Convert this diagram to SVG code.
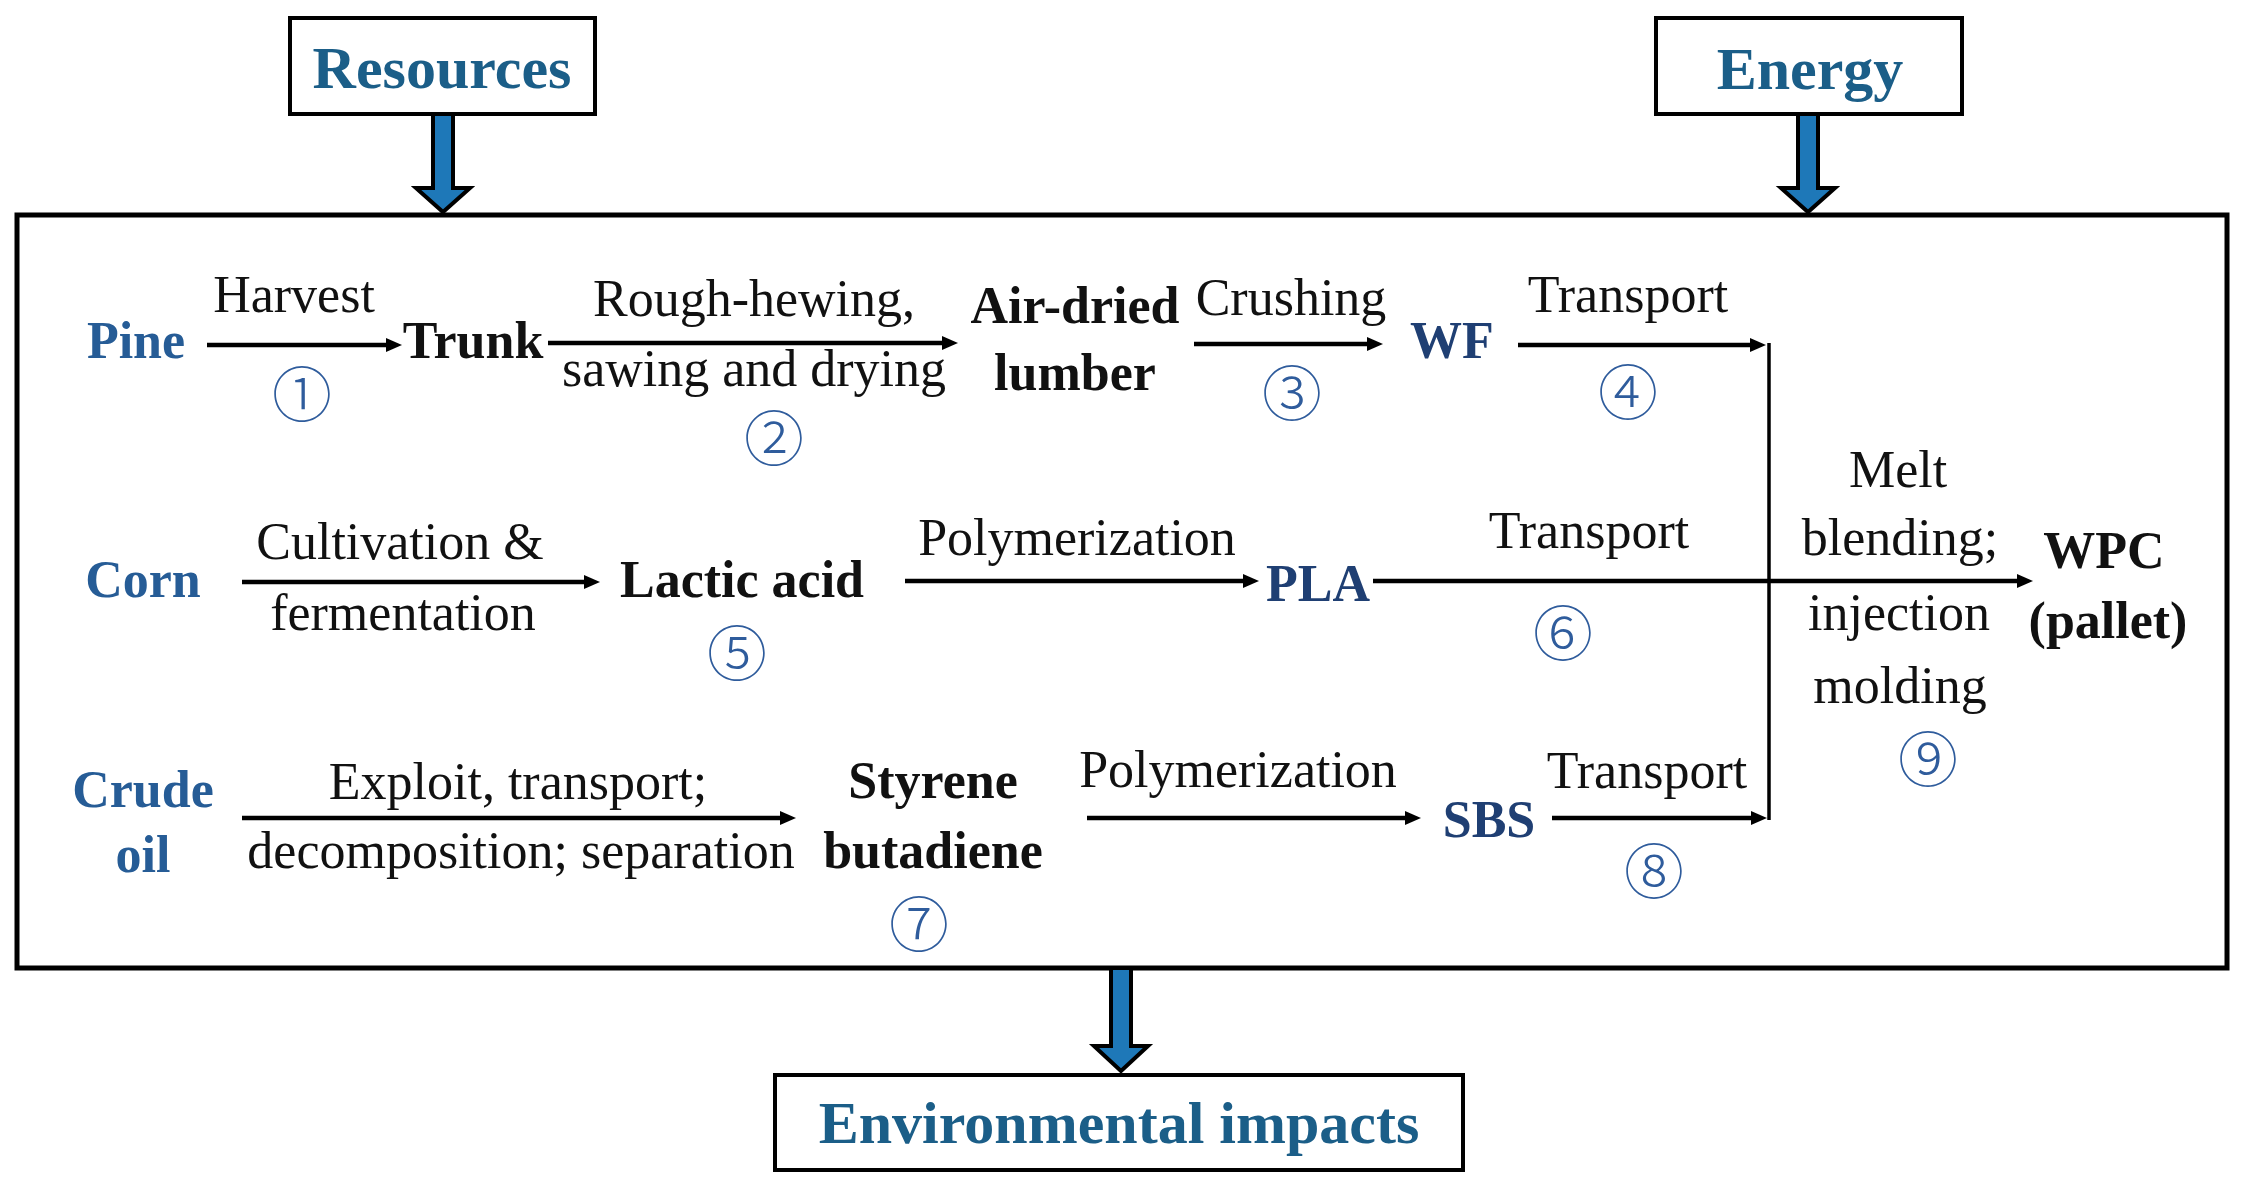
<svg xmlns="http://www.w3.org/2000/svg" width="2243" height="1189" viewBox="0 0 2243 1189">
<style>
.box{fill:#fff;stroke:#000;stroke-width:4}
.hdr{font-family:"Liberation Serif",serif;font-weight:bold;font-size:60px;fill:#1B5E88;text-anchor:middle}
.lbl{font-family:"Liberation Serif",serif;font-size:52px;fill:#111;text-anchor:middle}
.nd{font-family:"Liberation Serif",serif;font-weight:bold;font-size:52px;fill:#111;text-anchor:middle}
.ndb{font-family:"Liberation Serif",serif;font-weight:bold;font-size:52px;fill:#265C96;text-anchor:middle}
.ndd{font-family:"Liberation Serif",serif;font-weight:bold;font-size:52px;fill:#1F3F73;text-anchor:middle}
.num{font-family:"Noto Sans CJK JP","Noto Sans CJK SC",sans-serif;font-size:60px;font-weight:300;fill:#2F5C9C;text-anchor:middle;dominant-baseline:central}
.ln{stroke:#000;stroke-width:4.5;fill:none}
.big{fill:#1E78B8;stroke:#000;stroke-width:4;stroke-linejoin:miter}
</style>
<defs>
<marker id="ah" viewBox="0 0 16 14" markerWidth="16" markerHeight="14" refX="1" refY="7" markerUnits="userSpaceOnUse" orient="auto">
<path d="M0,0 L16,7 L0,14 z" fill="#000"/>
</marker>
</defs>

<g id="system-boundary">
<rect x="17" y="215" width="2210" height="753" fill="none" stroke="#000" stroke-width="5"/>
</g>

<g id="resources">
<rect class="box" x="290" y="18" width="305" height="96"/>
<text class="hdr" x="442" y="88">Resources</text>
</g>
<g id="energy">
<rect class="box" x="1656" y="18" width="306" height="96"/>
<text class="hdr" x="1810" y="89">Energy</text>
</g>
<g id="environmental-impacts">
<rect class="box" x="775" y="1075" width="688" height="95"/>
<text class="hdr" x="1119" y="1143">Environmental impacts</text>
</g>

<g id="pine"><text class="ndb" x="136" y="358">Pine</text></g>
<g id="trunk"><text class="nd" x="473" y="358">Trunk</text></g>
<g id="air-dried-lumber"><text class="nd" x="1075" y="323">Air-dried</text><text class="nd" x="1075" y="390">lumber</text></g>
<g id="wf"><text class="ndd" x="1452" y="358">WF</text></g>
<g id="corn"><text class="ndb" x="143" y="597">Corn</text></g>
<g id="lactic-acid"><text class="nd" x="742" y="597">Lactic acid</text></g>
<g id="pla"><text class="ndd" x="1318" y="601">PLA</text></g>
<g id="crude-oil"><text class="ndb" x="143" y="807">Crude</text><text class="ndb" x="143" y="872">oil</text></g>
<g id="styrene-butadiene"><text class="nd" x="933" y="798">Styrene</text><text class="nd" x="933" y="868">butadiene</text></g>
<g id="sbs"><text class="ndd" x="1489" y="837">SBS</text></g>
<g id="wpc"><text class="nd" x="2104" y="568">WPC</text><text class="nd" x="2108" y="638">(pallet)</text></g>

<g id="connectors">
<polygon class="big" points="433,114 453,114 453,188 470,188 443,212 416,188 433,188"/>
<polygon class="big" points="1798,114 1818,114 1818,188 1835,188 1808,212 1781,188 1798,188"/>
<polygon class="big" points="1111,968 1131,968 1131,1046 1148,1046 1121,1071 1094,1046 1111,1046"/>

<line class="ln" x1="207" y1="345" x2="387" y2="345" marker-end="url(#ah)"/>
<line class="ln" x1="548" y1="343" x2="943" y2="343" marker-end="url(#ah)"/>
<line class="ln" x1="1194" y1="344" x2="1368" y2="344" marker-end="url(#ah)"/>
<line class="ln" x1="1518" y1="345" x2="1751" y2="345" marker-end="url(#ah)"/>
<line class="ln" x1="242" y1="582" x2="585" y2="582" marker-end="url(#ah)"/>
<line class="ln" x1="905" y1="581" x2="1244" y2="581" marker-end="url(#ah)"/>
<line class="ln" x1="1373" y1="581" x2="2018" y2="581" marker-end="url(#ah)"/>
<line class="ln" x1="242" y1="818" x2="781" y2="818" marker-end="url(#ah)"/>
<line class="ln" x1="1087" y1="818" x2="1406" y2="818" marker-end="url(#ah)"/>
<line class="ln" x1="1552" y1="818" x2="1752" y2="818" marker-end="url(#ah)"/>
<line x1="1769" y1="343" x2="1769" y2="820" stroke="#000" stroke-width="3.5"/>

<text class="lbl" x="294" y="312">Harvest</text>
<text class="num" x="302" y="390">①</text>
<text class="lbl" x="754" y="316">Rough-hewing,</text>
<text class="lbl" x="754" y="386">sawing and drying</text>
<text class="num" x="774" y="434">②</text>
<text class="lbl" x="1291" y="315">Crushing</text>
<text class="num" x="1292" y="389">③</text>
<text class="lbl" x="1628" y="312">Transport</text>
<text class="num" x="1628" y="388">④</text>

<text class="lbl" x="400" y="559">Cultivation &amp;</text>
<text class="lbl" x="403" y="630">fermentation</text>
<text class="num" x="737" y="649">⑤</text>
<text class="lbl" x="1077" y="555">Polymerization</text>
<text class="lbl" x="1589" y="548">Transport</text>
<text class="num" x="1563" y="629">⑥</text>

<text class="lbl" x="518" y="799">Exploit, transport;</text>
<text class="lbl" x="521" y="868">decomposition; separation</text>
<text class="num" x="919" y="920">⑦</text>
<text class="lbl" x="1238" y="787">Polymerization</text>
<text class="lbl" x="1647" y="788">Transport</text>
<text class="num" x="1654" y="867">⑧</text>

<text class="lbl" x="1898" y="487">Melt</text>
<text class="lbl" x="1900" y="555">blending;</text>
<text class="lbl" x="1899" y="630">injection</text>
<text class="lbl" x="1900" y="703">molding</text>
<text class="num" x="1928" y="755">⑨</text>
</g>
</svg>
